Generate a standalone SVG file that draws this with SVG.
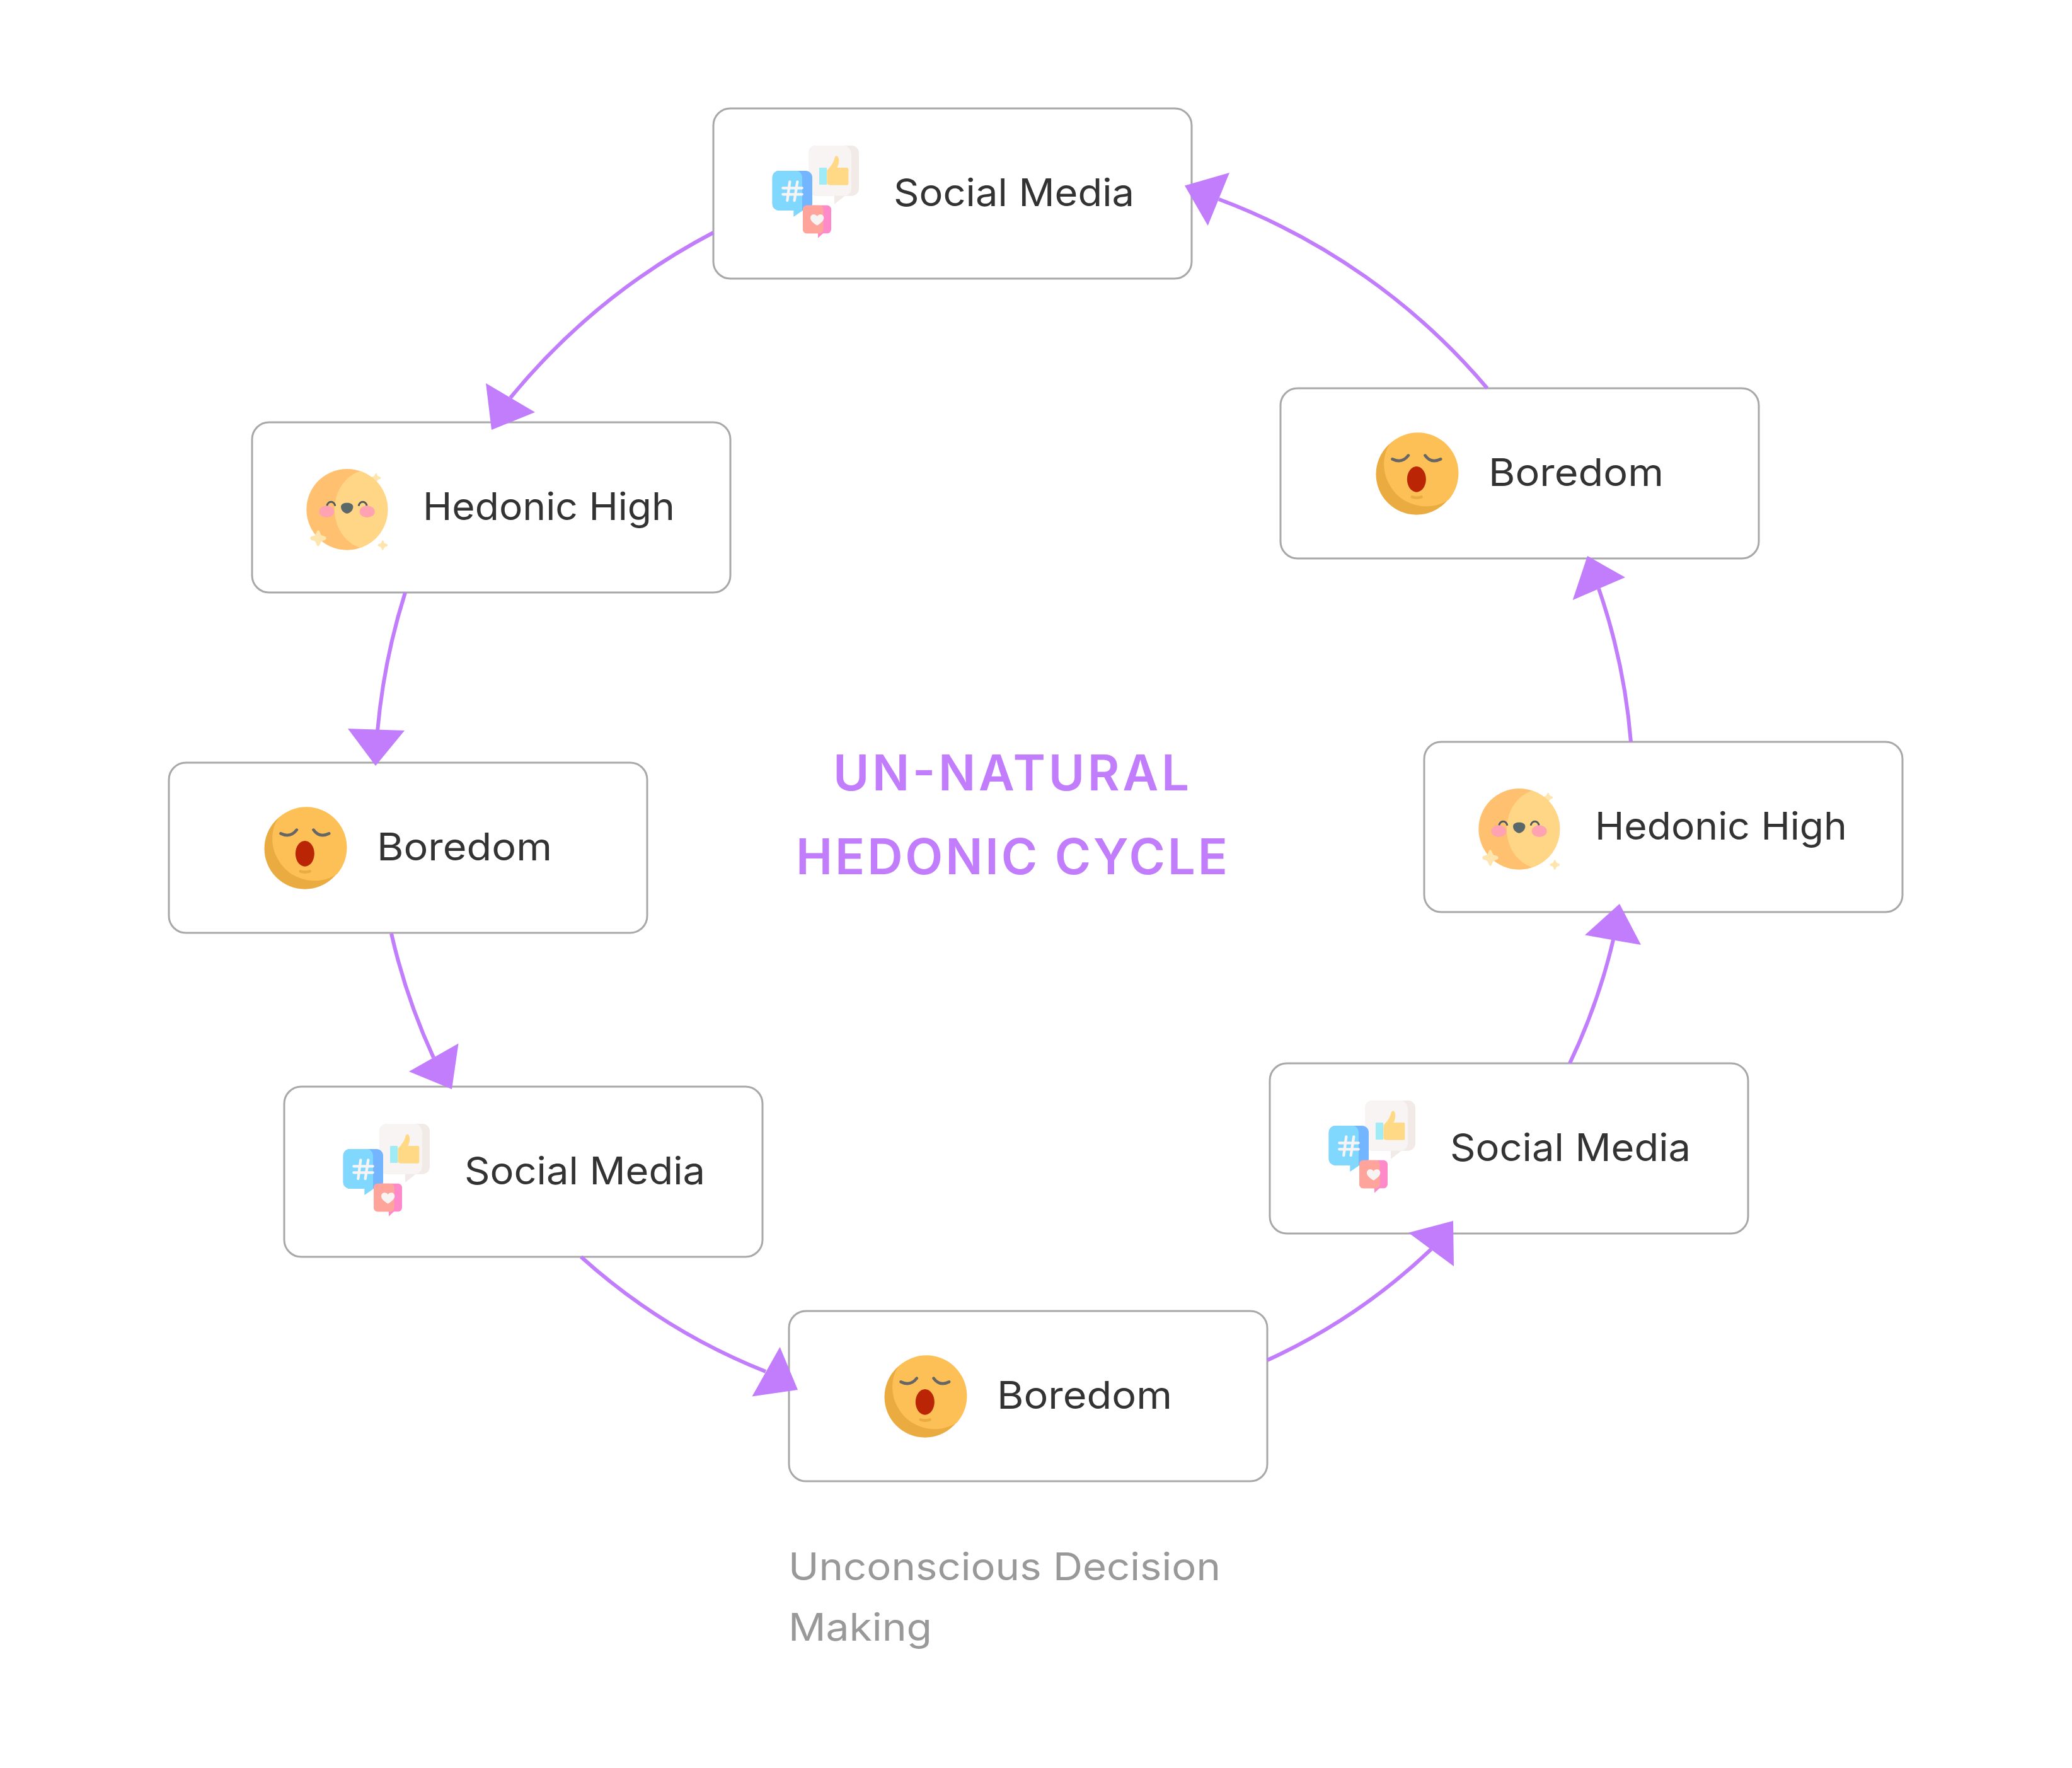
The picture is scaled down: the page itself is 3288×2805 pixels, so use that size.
<svg xmlns="http://www.w3.org/2000/svg" xmlns:xlink="http://www.w3.org/1999/xlink" width="3288" height="2805" viewBox="0 0 3288 2805">
<style>
.box{fill:#fff;stroke:#a8a8a8;stroke-width:3}
.lbl{font-family:"Inter","Noto Sans","Liberation Sans",sans-serif;font-size:60px;fill:#333}
.ttl{font-family:"Inter","Noto Sans","Liberation Sans",sans-serif;font-size:78px;font-weight:600;fill:#c17dfc}
.cap{font-family:"Inter","Noto Sans","Liberation Sans",sans-serif;font-size:60px;fill:#999}
.line{fill:none;stroke:#c17dfc;stroke-width:6}
.head{fill:#c17dfc}
</style>
<defs>
<path id="spark" fill="#fee5ad" d="M0,-38 C8,-38 8,-20 16,-14 C24,-10 38,-10 38,0 C38,10 24,10 16,14 C8,20 8,38 0,38 C-8,38 -8,20 -16,14 C-24,10 -38,10 -38,0 C-38,-10 -24,-10 -16,-14 C-8,-20 -8,-38 0,-38Z"/>
<g id="ic-social" transform="translate(68,38) scale(.33333)">
<rect x="249" y="63" width="240" height="239" rx="35" fill="#f1eae6"/>
<polygon points="372,300 372,342 425,300" fill="#f1eae6"/>
<path fill="#f7f4f3" d="M284,63H418C440,63 453,85 453,110V260C453,285 440,302 418,302H284A35,35 0 0 1 249,267V98A35,35 0 0 1 284,63Z"/>
<rect x="300" y="168" width="36" height="81" rx="3" fill="#9fecf6"/>
<path fill="#ffd986" d="M337,180C355,165 370,140 373,122C375,112 385,108 390,118C398,135 392,155 385,168H432Q439,168 439,175V243Q439,251 432,251H355Q340,251 337,243Z"/>
<rect x="77" y="183" width="190" height="189" rx="32" fill="#74b5ff"/>
<path fill="#80d8ff" d="M109,183H190C210,183 219,200 219,220V372H109A32,32 0 0 1 77,340V215A32,32 0 0 1 109,183Z"/>
<polygon points="178,370 178,402 222,372 219,370" fill="#80d8ff"/>
<path fill="none" stroke="#f7f4f3" stroke-width="13" stroke-linecap="round" d="M160,235L148,324M196,235L182,324M127,265H218M127,295H218"/>
<rect x="222" y="347" width="135" height="134" rx="20" fill="#ff8ac9"/>
<polygon points="294,479 294,503 320,479" fill="#ff8ac9"/>
<path fill="#ffa49b" d="M242,347H300C312,347 320,356 320,368V460C320,472 312,481 300,481H242A20,20 0 0 1 222,461V367A20,20 0 0 1 242,347Z"/>
<path fill="#f7f4f3" d="M290,443C270,430 258,420 258,407C258,395 268,389 277,391C283,392 288,396 290,400C292,396 297,392 303,391C312,389 322,395 322,407C322,420 310,430 290,443Z"/>
</g>
<g id="ic-high" transform="translate(70,60) scale(.33333)">
<use href="#spark" transform="translate(380,85) scale(.6)"/>
<circle cx="242" cy="235" r="193" fill="#ffc170"/>
<path fill="#ffd686" d="M305,52C225,80 183,155 183,235C183,315 225,390 305,418A193,193 0 0 0 305,52Z"/>
<path fill="none" stroke="#4e5b5e" stroke-width="9" d="M147,218A19,19 0 0 1 185,218M298,218A19,19 0 0 1 336,218"/>
<ellipse cx="145" cy="245" rx="36" ry="28" fill="#ffa2b1"/>
<ellipse cx="338" cy="245" rx="36" ry="28" fill="#ffa2b1"/>
<path fill="#5b686a" d="M213,222C213,208 228,203 242,203C256,203 271,208 271,222C271,240 255,254 242,254C229,254 213,240 213,222Z"/>
<use href="#spark" transform="translate(105,372)"/>
<use href="#spark" transform="translate(412,405) scale(.62)"/>
</g>
<g id="ic-bored" transform="translate(137.500,65) scale(.33333)">
<circle cx="235" cy="214" r="193" fill="#eaac41"/>
<path fill="#fdc056" d="M110,68C70,120 70,210 110,270C160,360 290,400 388,335A193,193 0 0 0 110,68Z"/>
<ellipse cx="235" cy="238" rx="45" ry="61" fill="#ba2505"/>
<path fill="none" stroke="#eaac41" stroke-width="14" stroke-linecap="round" d="M214,322Q235,330 258,322"/>
<path fill="none" stroke="#666" stroke-width="14" stroke-linecap="round" d="M120,142Q165,165 196,125M276,125Q305,165 350,142"/>
</g>
</defs>
<rect width="3288" height="2805" fill="#fff"/>
<g id="node-social-top" transform="translate(1132,172)"><rect class="box" width="759" height="270" rx="27"/><use href="#ic-social"/><text class="lbl" x="286" y="155" textLength="382" lengthAdjust="spacingAndGlyphs">Social Media</text></g>
<g id="node-high-left" transform="translate(400,670)"><rect class="box" width="759" height="270" rx="27"/><use href="#ic-high"/><text class="lbl" x="271" y="155" textLength="400" lengthAdjust="spacingAndGlyphs">Hedonic High</text></g>
<g id="node-bored-left" transform="translate(268,1210)"><rect class="box" width="759" height="270" rx="27"/><use href="#ic-bored"/><text class="lbl" x="330" y="155" textLength="278" lengthAdjust="spacingAndGlyphs">Boredom</text></g>
<g id="node-social-left" transform="translate(451,1724)"><rect class="box" width="759" height="270" rx="27"/><use href="#ic-social"/><text class="lbl" x="286" y="155" textLength="382" lengthAdjust="spacingAndGlyphs">Social Media</text></g>
<g id="node-bored-bottom" transform="translate(1252,2080)"><rect class="box" width="759" height="270" rx="27"/><use href="#ic-bored"/><text class="lbl" x="330" y="155" textLength="278" lengthAdjust="spacingAndGlyphs">Boredom</text></g>
<g id="node-social-right" transform="translate(2015,1687)"><rect class="box" width="759" height="270" rx="27"/><use href="#ic-social"/><text class="lbl" x="286" y="155" textLength="382" lengthAdjust="spacingAndGlyphs">Social Media</text></g>
<g id="node-high-right" transform="translate(2260,1177)"><rect class="box" width="759" height="270" rx="27"/><use href="#ic-high"/><text class="lbl" x="271" y="155" textLength="400" lengthAdjust="spacingAndGlyphs">Hedonic High</text></g>
<g id="node-bored-right" transform="translate(2032,616)"><rect class="box" width="759" height="270" rx="27"/><use href="#ic-bored"/><text class="lbl" x="330" y="155" textLength="278" lengthAdjust="spacingAndGlyphs">Boredom</text></g>
<g id="connectors">
<path class="line" d="M1132,369A1043,1043 0 0 0 810,631"/><polygon class="head" points="780,682 771,608 849,654"/>
<path class="line" d="M643,940A1030,1030 0 0 0 599,1160"/><polygon class="head" points="596,1215 552,1156 642,1159"/>
<path class="line" d="M621,1481A1004,1004 0 0 0 688,1678"/><polygon class="head" points="717,1728 727.500,1655.500 649,1700"/>
<path class="line" d="M922,1994A976,976 0 0 0 1215,2176"/><polygon class="head" points="1266,2205 1237.600,2137 1193.500,2215.500"/>
<path class="line" d="M2011,2158A948,948 0 0 0 2271,1982"/><polygon class="head" points="2306,1937 2235,1955.700 2307,2009"/>
<path class="line" d="M2491,1687A964,964 0 0 0 2560,1491"/><polygon class="head" points="2570,1434 2515,1483.600 2604,1499"/>
<path class="line" d="M2588,1177A988,988 0 0 0 2537,934"/><polygon class="head" points="2519,882 2495.700,952 2579,916"/>
<path class="line" d="M2360,616A1030,1030 0 0 0 1934,316"/><polygon class="head" points="1880,294.500 1951,274 1916.700,358"/>
</g>
<g id="title"><text class="ttl" x="1322" y="1254" textLength="565">UN-NATURAL</text><text class="ttl" x="1263" y="1387" textLength="685">HEDONIC CYCLE</text></g>
<g id="caption"><text class="cap" x="1251" y="2507" textLength="686" lengthAdjust="spacingAndGlyphs">Unconscious Decision</text><text class="cap" x="1251" y="2603" textLength="228" lengthAdjust="spacingAndGlyphs">Making</text></g>
</svg>
